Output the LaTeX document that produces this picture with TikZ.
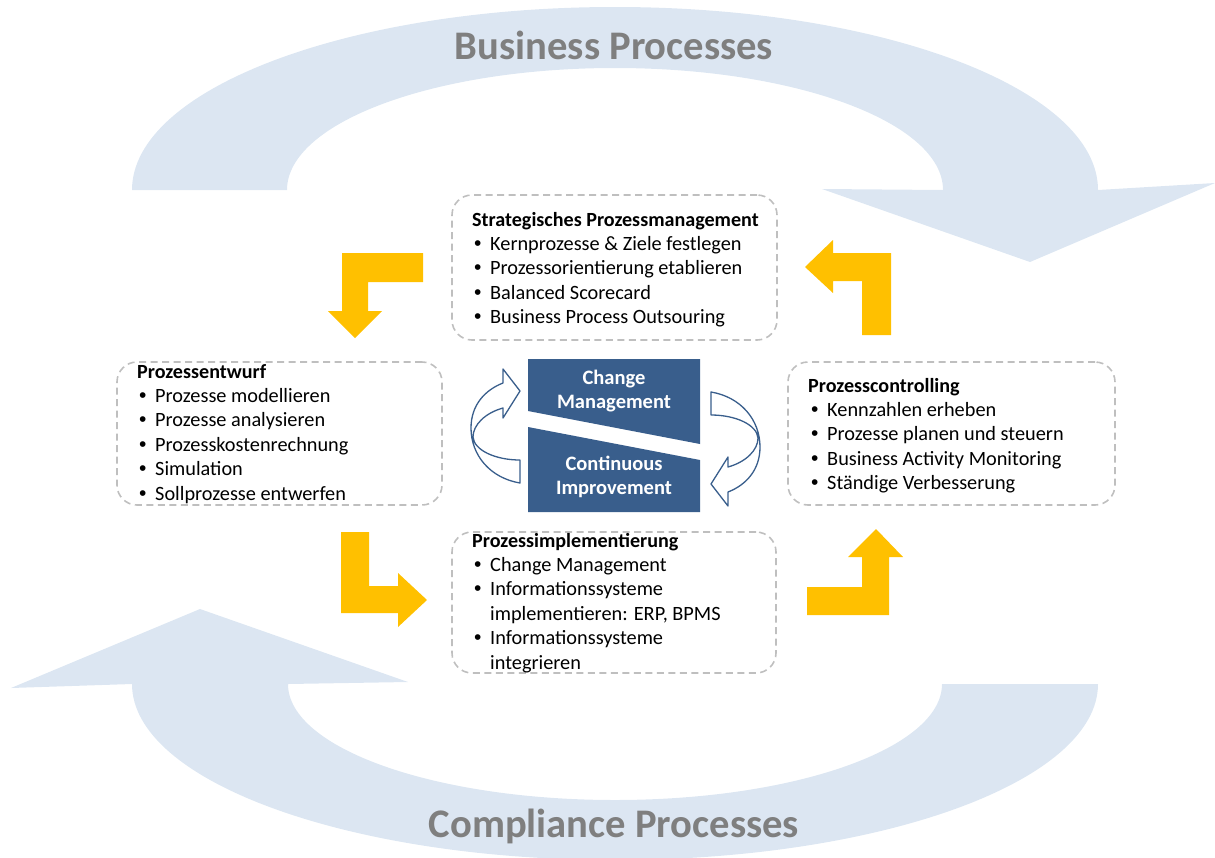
\documentclass[tikz,border=0pt]{standalone}
\usepackage{fontspec}
\setmainfont{Carlito}
\newfontfamily\bulletfont{Liberation Sans}
\definecolor{arcblue}{HTML}{DCE6F2}
\definecolor{arctext}{HTML}{7F7F7F}
\definecolor{darkblue}{HTML}{395E8C}
\definecolor{gold}{HTML}{FFC000}
\definecolor{dashgray}{HTML}{BFBFBF}
\tikzset{
  procbox/.style={draw=dashgray, line width=1.6pt, dash pattern=on 7pt off 4.5pt, rounded corners=20pt, inner sep=0pt},
  ttl/.style={anchor=base west, inner sep=0pt, font=\fontsize{20.1}{24}\selectfont\bfseries},
  bul/.style={anchor=base west, inner sep=0pt, font=\bulletfont\fontsize{21}{24}\selectfont},
  itm/.style={anchor=base west, inner sep=0pt, font=\fontsize{20.3}{24}\selectfont},
  bigtitle/.style={text=arctext, font=\fontsize{40.6}{44}\selectfont\bfseries, inner sep=0pt},
  blocktext/.style={text=white, align=center, font=\fontsize{20.5}{24.5}\selectfont\bfseries, inner sep=0pt},
  yarrow/.style={fill=gold},
  curvearrow/.style={fill=white, draw=darkblue, line width=1.3pt, line join=round},
}
\begin{document}
\begin{tikzpicture}[x=1pt,y=-1pt]
\useasboundingbox (0,0) rectangle (1215,857);

% big background arcs
\fill[arcblue] (132,190) arc[start angle=180,end angle=0,x radius=483pt,y radius=183pt]
  -- (1215,183) -- (1030,262) -- (822,189) -- (943,190)
  arc[start angle=0,end angle=180,x radius=328pt,y radius=122pt] -- cycle;
\fill[arcblue] (1098,684) arc[start angle=0,end angle=-180,x radius=483pt,y radius=176pt]
  -- (11,688) -- (200,609) -- (408,682) -- (288,684)
  arc[start angle=180,end angle=360,x radius=327pt,y radius=116pt] -- cycle;
\node[bigtitle] (bp) at (614,45) {Business Processes};
\node[bigtitle] (cp) at (614,826) {Compliance Processes};

% yellow bent arrows
\fill[yarrow] (423,253) -- (342,253) -- (342,311) -- (328,311) -- (355,338) -- (382,311) -- (368,311) -- (368,282) -- (423,282) -- cycle;
\fill[yarrow] (862,335) -- (891,335) -- (891,253) -- (833,253) -- (833,240) -- (805,267) -- (833,293) -- (833,281) -- (862,281) -- cycle;
\fill[yarrow] (341,532) -- (369,532) -- (369,586) -- (398,586) -- (398,573) -- (427,600) -- (398,627) -- (398,613) -- (341,613) -- cycle;
\fill[yarrow] (807,587) -- (862,587) -- (862,557) -- (848,557) -- (876,529) -- (903,557) -- (889,557) -- (889,615) -- (807,615) -- cycle;

% dashed boxes
\node[procbox, minimum width=325pt, minimum height=145pt] (strat) at (614.5,267.5) {};
\node[procbox, minimum width=325pt, minimum height=143pt] (entw) at (279.5,433.5) {};
\node[procbox, minimum width=327pt, minimum height=143pt] (ctrl) at (951.5,433.5) {};
\node[procbox, minimum width=324pt, minimum height=141pt] (impl) at (614,602.5) {};

% strategic
\node[ttl] (s0) at (472,226) {Strategisches Prozessmanagement};
\node[bul] (sb1) at (474,250.4) {•}; \node[itm] (s1) at (490,250.4) {Kernprozesse \& Ziele festlegen};
\node[bul] (sb2) at (474,274.8) {•}; \node[itm] (s2) at (490,274.8) {Prozessorientierung etablieren};
\node[bul] (sb3) at (474,299.2) {•}; \node[itm] (s3) at (490,299.2) {Balanced Scorecard};
\node[bul] (sb4) at (474,323.6) {•}; \node[itm] (s4) at (490,323.6) {Business Process Outsouring};

% entwurf
\node[ttl] (e0) at (137,378) {Prozessentwurf};
\node[bul] (eb1) at (139,402.4) {•}; \node[itm] (e1) at (155,402.4) {Prozesse modellieren};
\node[bul] (eb2) at (139,426.8) {•}; \node[itm] (e2) at (155,426.8) {Prozesse analysieren};
\node[bul] (eb3) at (139,451.2) {•}; \node[itm] (e3) at (155,451.2) {Prozesskostenrechnung};
\node[bul] (eb4) at (139,475.6) {•}; \node[itm] (e4) at (155,475.6) {Simulation};
\node[bul] (eb5) at (139,500.0) {•}; \node[itm] (e5) at (155,500.0) {Sollprozesse entwerfen};

% controlling
\node[ttl] (c0) at (808,392) {Prozesscontrolling};
\node[bul] (cb1) at (811,416.4) {•}; \node[itm] (c1) at (827,416.4) {Kennzahlen erheben};
\node[bul] (cb2) at (811,440.8) {•}; \node[itm] (c2) at (827,440.8) {Prozesse planen und steuern};
\node[bul] (cb3) at (811,465.2) {•}; \node[itm] (c3) at (827,465.2) {Business Activity Monitoring};
\node[bul] (cb4) at (811,489.6) {•}; \node[itm] (c4) at (827,489.6) {Ständige Verbesserung};

% implementierung
\node[ttl] (i0) at (472,547) {Prozessimplementierung};
\node[bul] (ib1) at (474,571.4) {•}; \node[itm] (i1) at (490,571.4) {Change Management};
\node[bul] (ib2) at (474,595.8) {•}; \node[itm] (i2) at (490,595.8) {Informationssysteme};
\node[itm] (i3) at (490,620.2) {implementieren: ERP, BPMS};
\node[bul] (ib4) at (474,644.6) {•}; \node[itm] (i4) at (490,644.6) {Informationssysteme};
\node[itm] (i5) at (490,669.0) {integrieren};

% central blocks
\fill[darkblue] (528,359) -- (700,359) -- (700,444) -- (528,411) -- cycle;
\fill[darkblue] (528,427) -- (700,460) -- (700,512) -- (528,512) -- cycle;
\node[blocktext] (cm) at (614,391) {Change\\Management};
\node[blocktext] (ci) at (614,477) {Continuous\\Improvement};

% curved arrows
\draw[curvearrow] (520,483) .. controls (490,478) and (471,455) .. (471,428)
  .. controls (471,405) and (485,390) .. (503,383) -- (503,369) -- (520,391) -- (503,418) -- (503,408)
  .. controls (485,413) and (473,425) .. (473,437) .. controls (474,450) and (495,460) .. (520,460) -- cycle;
\begin{scope}[rotate around={180:(615.5,437.5)}]
\draw[curvearrow] (520,483) .. controls (490,478) and (471,455) .. (471,428)
  .. controls (471,405) and (485,390) .. (503,383) -- (503,369) -- (520,391) -- (503,418) -- (503,408)
  .. controls (485,413) and (473,425) .. (473,437) .. controls (474,450) and (495,460) .. (520,460) -- cycle;
\end{scope}
\end{tikzpicture}
\end{document}
